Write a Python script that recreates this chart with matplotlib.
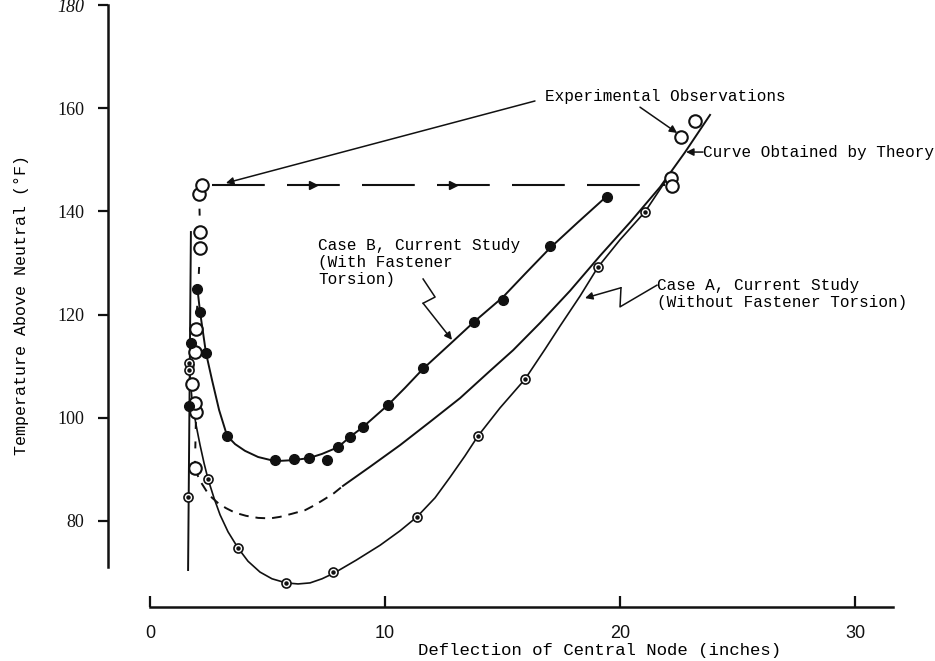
import matplotlib
matplotlib.use("Agg")
import matplotlib.pyplot as plt

plt.rcParams['lines.scale_dashes'] = False

MONO = 'Liberation Mono'

# Case B, current study (with fastener torsion): filled dots and fitted curve
case_b_pts_x = [2.00, 2.13, 1.74, 2.38, 1.66, 3.28, 5.32, 6.13, 6.77, 7.53, 8.00,
                8.51, 9.06, 10.13, 11.62, 13.79, 15.02, 17.02, 19.45]
case_b_pts_y = [125.0, 120.5, 114.5, 112.6, 102.3, 96.5, 91.8, 92.0, 92.2, 91.8, 94.3,
                96.3, 98.2, 102.5, 109.7, 118.6, 122.8, 133.3, 142.8]
case_b_line_x = [2.00, 2.13, 2.26, 2.38, 2.64, 2.94, 3.28, 3.62, 4.04, 4.60, 5.32,
                 6.13, 6.77, 7.32, 8.00, 8.51, 9.06, 10.13, 10.85, 11.62, 12.77,
                 13.79, 15.02, 15.96, 17.02, 18.21, 19.45]
case_b_line_y = [125.7, 120.5, 116.4, 112.6, 107.3, 101.5, 96.5, 94.9, 93.6, 92.4, 91.6,
                 91.8, 92.2, 93.0, 94.3, 96.3, 98.2, 102.5, 105.8, 109.5, 114.3,
                 118.6, 123.4, 127.9, 132.9, 137.9, 143.0]

# Case A, current study (without fastener torsion): circled dots and fitted curve
case_a_pts_x = [1.66, 1.66, 1.62, 2.47, 3.74, 5.79, 7.79, 11.36, 13.96, 15.96, 19.06, 21.06]
case_a_pts_y = [110.6, 109.3, 84.7, 88.1, 74.8, 68.0, 70.1, 80.8, 96.5, 107.5, 129.2, 139.9]
case_a_line_x = [1.66, 1.79, 1.96, 2.13, 2.30, 2.47, 2.72, 2.98, 3.32, 3.74, 4.17,
                 4.68, 5.19, 5.79, 6.30, 6.81, 7.32, 7.83, 8.77, 9.79, 10.64, 11.36,
                 12.13, 12.77, 13.40, 13.96, 14.89, 15.96, 16.81, 17.45, 18.30, 19.06,
                 20.00, 21.06, 21.91]
case_a_line_y = [110.2, 103.4, 98.6, 94.7, 91.2, 88.1, 84.5, 81.2, 77.9, 74.8, 72.2,
                 70.1, 68.8, 68.0, 67.8, 68.0, 68.8, 69.9, 72.4, 75.3, 78.1, 80.8,
                 84.5, 88.5, 92.6, 96.5, 101.9, 107.5, 113.3, 117.8, 123.6, 129.2,
                 134.5, 139.9, 145.7]

# Curve obtained by theory
theory_left_x = [1.62, 1.74]
theory_left_y = [70.5, 136.0]
theory_unstable_x = [1.91, 2.04, 2.21, 2.43, 2.64, 2.89, 3.23, 3.62, 4.09, 4.60, 5.11,
                     5.53, 6.04, 6.60, 7.02, 7.45, 7.83, 8.21]
theory_unstable_y = [90.3, 88.7, 87.2, 85.6, 84.5, 83.5, 82.5, 81.6, 81.0, 80.6, 80.5,
                     80.8, 81.4, 82.1, 83.1, 84.3, 85.4, 86.8]
theory_upper_x = [8.21, 9.36, 10.64, 11.91, 13.19, 14.47, 15.45, 16.60, 17.87, 19.15,
                  20.43, 21.70, 22.77, 23.83]
theory_upper_y = [86.8, 90.5, 94.7, 99.2, 103.8, 109.1, 113.1, 118.4, 124.6, 131.4,
                  137.9, 144.7, 151.5, 158.7]

# Experimental observations (open circles)
exp_x = [1.91, 1.96, 1.91, 1.79, 1.91, 1.96, 2.13, 2.13, 2.09, 2.21]
exp_y = [90.3, 101.1, 102.9, 106.6, 112.8, 117.2, 132.9, 136.0, 143.4, 145.1]
exp_jump_x = [2.65, 21.9]
exp_jump_y = [145.1, 145.1]
exp_after_x = [22.17, 22.21, 22.60, 23.19]
exp_after_y = [146.5, 144.9, 154.4, 157.5]

y_ticks = [80, 100, 120, 140, 160, 180]
x_ticks = [0, 10, 20, 30]

fig = plt.figure(figsize=(9.35, 6.61), dpi=100)
ax = fig.add_axes([100 / 935, 46 / 661, 795 / 935, 615 / 661])
ax.set_xlim(-2.128, 31.70)
ax.set_ylim(61.78, 180.97)

k = '#111111'

# theory
ax.plot(theory_left_x, theory_left_y, color=k, lw=1.4)
ax.plot(theory_unstable_x, theory_unstable_y, color=k, lw=1.4, dashes=(7, 5))
ax.plot(theory_upper_x, theory_upper_y, color=k, lw=1.4)

# case curves
ax.plot(case_b_line_x, case_b_line_y, color=k, lw=1.4)
ax.plot(case_a_line_x, case_a_line_y, color=k, lw=1.2)

# experimental path
ax.plot(exp_x, exp_y, color=k, lw=1.4, dashes=(5, 9), zorder=2)
ax.plot(exp_jump_x, exp_jump_y, color=k, lw=1.5, dashes=(38, 16), zorder=2)
ax.plot([6.94, 12.9], [145.1, 145.1], ls='none', marker='>', ms=6, color=k)

# markers
ax.plot(case_b_pts_x, case_b_pts_y, ls='none', marker='o', ms=7, color=k, zorder=4)
ax.plot(case_a_pts_x, case_a_pts_y, ls='none', marker='o', ms=6.5, mfc='white',
        mec=k, mew=1.2, zorder=4)
ax.plot(case_a_pts_x, case_a_pts_y, ls='none', marker='o', ms=2.2, color=k, zorder=5)
ax.plot(exp_x + exp_after_x, exp_y + exp_after_y, ls='none', marker='o', ms=9,
        mfc='white', mec=k, mew=1.5, zorder=3)

# annotations
arrow = dict(arrowstyle='-|>', lw=1.1, color=k, mutation_scale=11, shrinkA=0, shrinkB=0)
ax.text(16.81, 162.2, 'Experimental Observations', family=MONO, fontsize=11.5,
        va='center', ha='left')
ax.annotate('', xy=(3.23, 145.5), xytext=(16.38, 161.4), arrowprops=arrow)
ax.annotate('', xy=(22.43, 155.2), xytext=(20.85, 160.2), arrowprops=arrow)

ax.text(23.53, 151.5, 'Curve Obtained by Theory', family=MONO, fontsize=11.5,
        va='center', ha='left', clip_on=False)
ax.annotate('', xy=(22.81, 151.5), xytext=(23.53, 151.5), arrowprops=arrow)

ax.text(7.15, 134.8, 'Case B, Current Study\n(With Fastener\nTorsion)', family=MONO,
        fontsize=11.5, va='top', ha='left', linespacing=1.15)
ax.plot([11.62, 12.13, 11.62], [126.9, 123.4, 122.2], color=k, lw=1.1)
ax.annotate('', xy=(12.85, 115.1), xytext=(11.62, 122.2), arrowprops=arrow)

ax.text(21.57, 127.0, 'Case A, Current Study\n(Without Fastener Torsion)', family=MONO,
        fontsize=11.5, va='top', ha='left', linespacing=1.1)
ax.plot([21.57, 20.0, 20.04], [125.7, 121.5, 125.2], color=k, lw=1.1)
ax.annotate('', xy=(18.51, 123.2), xytext=(20.04, 125.2), arrowprops=arrow)

# axes styling
for s in ['top', 'right']:
    ax.spines[s].set_visible(False)
ax.spines['left'].set_position(('data', -1.79))
ax.spines['left'].set_bounds(71, 180)
ax.spines['bottom'].set_position(('data', 63.33))
ax.spines['bottom'].set_bounds(0, 31.6)
for s in ['left', 'bottom']:
    ax.spines[s].set_linewidth(1.8)
    ax.spines[s].set_color(k)

ax.set_yticks(y_ticks)
ax.set_yticklabels([str(v) for v in y_ticks], family='Liberation Serif', fontsize=13)
ax.get_yticklabels()[-1].set_fontstyle('italic')
ax.tick_params(axis='y', direction='out', length=7, width=1.6, pad=10, colors=k)
ax.set_xticks(x_ticks)
ax.set_xticklabels([str(v) for v in x_ticks], family='Liberation Sans', fontsize=13)
ax.tick_params(axis='x', direction='in', length=8, width=1.6, pad=13, colors=k)

fig.text(22 / 935, 1 - 305 / 661, 'Temperature Above Neutral (°F)', family=MONO,
         fontsize=12, rotation=90, ha='center', va='center')
fig.text(600 / 935, 1 - 651 / 661, 'Deflection of Central Node (inches)', family=MONO,
         fontsize=12.5, ha='center', va='center')

fig.savefig('out.png', dpi=100)
